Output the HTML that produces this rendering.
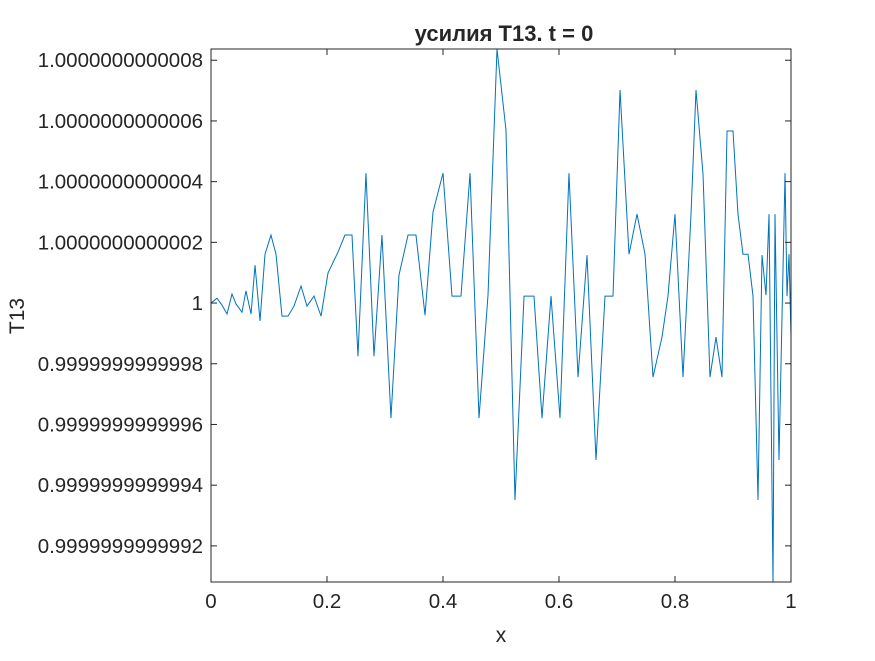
<!DOCTYPE html>
<html><head><meta charset="utf-8"><style>
body{margin:0;background:#fff;width:875px;height:656px;overflow:hidden}
svg text{font-family:"Liberation Sans",Arial,sans-serif;fill:#262626}
</style></head><body>
<svg id="chart" width="875" height="656" xmlns="http://www.w3.org/2000/svg">
<rect width="875" height="656" fill="#fff"/>
<g id="axes"></g>
</svg>
<script>
const xVals=[0,.0103,.019,.0276,.0362,.0431,.0534,.0603,.069,.0759,.0845,.0931,.1034,.1121,.1224,.1328,.1431,.1552,.1655,.1776,.1897,.2017,.219,.231,.2431,.2534,.2672,.281,.2948,.3103,.3241,.3397,.3534,.369,.3828,.4,.4155,.431,.4466,.4621,.4776,.4931,.5086,.5241,.5397,.5569,.5707,.5862,.6017,.6172,.6328,.6483,.6638,.6793,.6931,.7052,.7207,.7345,.7483,.7621,.7776,.7879,.8,.8138,.8276,.8362,.8483,.8603,.8707,.881,.8897,.9,.9086,.9172,.9259,.9345,.9431,.95,.9569,.9621,.969,.9724,.9793,.9897,.9931,.9966,1];
const yVals=[0,.16,-.07,-.36,.3,-.03,-.3,.4,-.36,1.25,-.59,1.61,2.24,1.61,-.43,-.43,-.1,.56,-.1,.23,-.43,.99,1.68,2.24,2.24,-1.75,4.28,-1.75,2.24,-3.79,.92,2.24,2.24,-.4,3.0,4.28,.23,.23,4.28,-3.79,.26,8.37,5.7,-6.49,.23,.23,-3.79,.23,-3.79,4.28,-2.44,1.58,-5.17,.23,.23,7.02,1.61,2.93,1.61,-2.44,-1.12,.23,2.93,-2.44,2.93,7.02,4.25,-2.44,-1.12,-2.44,5.67,5.67,2.93,1.61,1.61,.23,-6.49,1.58,.26,2.93,-9.26,2.93,-5.17,4.28,.23,1.61,-1.12];
const xTicks=[0,0.2,0.4,0.6,0.8,1];
const xTickLabels=["0","0.2","0.4","0.6","0.8","1"];
const yTicks=[8,6,4,2,0,-2,-4,-6,-8];
const yTickLabels=["1.0000000000008","1.0000000000006","1.0000000000004","1.0000000000002","1","0.9999999999998","0.9999999999996","0.9999999999994","0.9999999999992"];
const L=211,R=791,T=49,B=582,yMin=-9.19,yMax=8.37;
const sx=v=>L+(v-0)/(1-0)*(R-L);
const sy=v=>B-(v-yMin)/(yMax-yMin)*(B-T);
const NS="http://www.w3.org/2000/svg";
const g=document.getElementById('axes');
function mk(t,a,p){const e=document.createElementNS(NS,t);for(const k in a)e.setAttribute(k,a[k]);(p||g).appendChild(e);return e;}
const clip=mk('clipPath',{id:'pc'});mk('rect',{x:L,y:T,width:R-L,height:B-T},clip);
const pts=xVals.map((x,i)=>sx(x).toFixed(2)+','+sy(yVals[i]).toFixed(2)).join(' ');
const line=mk('polyline',{points:pts,fill:'none',stroke:'#0072BD','stroke-width':1,'clip-path':'url(#pc)'});


const box=mk('rect',{x:L,y:T,width:R-L,height:B-T,fill:'none',stroke:'#262626','stroke-width':1});


xTicks.forEach((v,i)=>{const x=sx(v);
 mk('line',{x1:x,x2:x,y1:B,y2:B-6,stroke:'#262626'});mk('line',{x1:x,x2:x,y1:T,y2:T+6,stroke:'#262626'});
 const t=mk('text',{x:x,y:B+26,'text-anchor':'middle','font-size':20.5});t.textContent=xTickLabels[i];
 
 });
yTicks.forEach((v,i)=>{const y=sy(v);
 mk('line',{x1:L,x2:L+6,y1:y,y2:y,stroke:'#262626'});mk('line',{x1:R,x2:R-6,y1:y,y2:y,stroke:'#262626'});
 const t=mk('text',{x:L-8,y:y+7,'text-anchor':'end','font-size':20.5});t.textContent=yTickLabels[i];
 
 });
const tt=mk('text',{x:(L+R)/2+3,y:41,'text-anchor':'middle','font-size':22,'font-weight':'bold'});tt.textContent='усилия T13. t = 0';


const xl=mk('text',{x:(L+R)/2,y:642,'text-anchor':'middle','font-size':21});xl.textContent='x';


const yl=mk('text',{x:0,y:0,'text-anchor':'middle','font-size':21,transform:'translate(24,316) rotate(-90)'});yl.textContent='T13';


</script>
</body></html>
